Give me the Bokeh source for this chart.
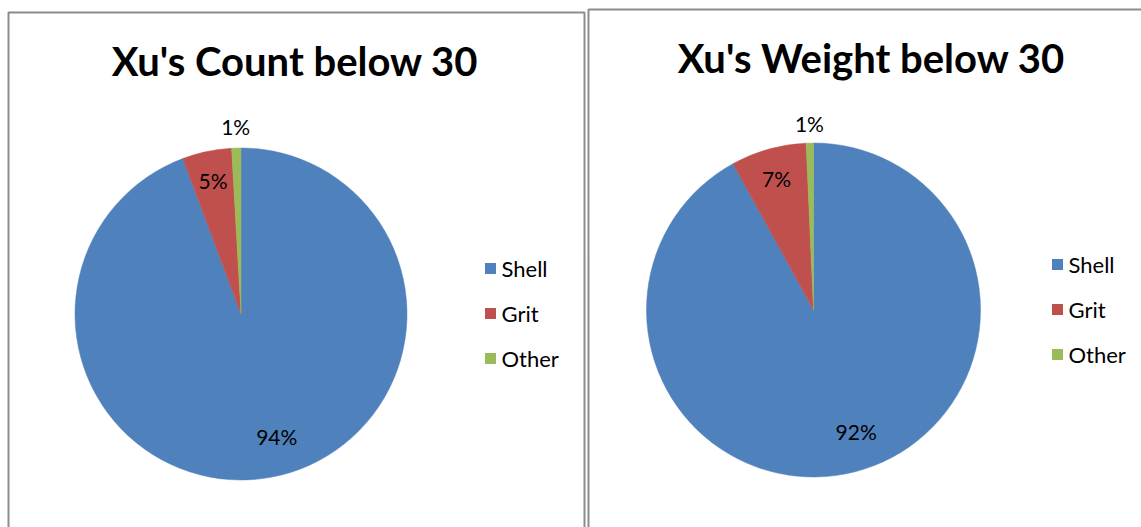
import math
from bokeh.plotting import figure
from bokeh.models import Range1d
from bokeh.core.properties import value
from bokeh.embed import file_html
from bokeh.resources import INLINE

# ---- data ----
categories = ["Shell", "Grit", "Other"]
colors = ["#4F81BD", "#C0504D", "#9BBB59"]
count_values = [94.3, 4.8, 0.9]
weight_values = [92.0, 7.3, 0.7]
titles = ["Xu's Count below 30", "Xu's Weight below 30"]

W, H = 1141, 527
FONT = "Lato"

p = figure(width=W, height=H, output_backend="svg", toolbar_location=None,
           x_range=Range1d(0, W), y_range=Range1d(0, H), min_border=0)
p.axis.visible = False
p.grid.visible = False
p.outline_line_color = None
p.background_fill_color = "white"


def Y(py):
    return H - py


def draw_panel(vals, title, box, center, radius, title_pos, legend_x, legend_y0,
               label_fac, label_shift):
    l, r, t = box
    # chart border
    p.quad(left=l, right=r, top=Y(t), bottom=Y(H + 20), fill_color=None,
           line_color="#8C8C8C", line_width=2)
    p.text(x=[title_pos[0]], y=[Y(title_pos[1])], text=[title], text_font=value(FONT),
           text_font_style="bold", text_font_size="40px", text_align="center",
           text_baseline="middle", text_color="#000000")
    total = sum(vals)
    cx, cy = center
    cum = 0.0
    starts, ends = [], []
    lx, ly, lt = [], [], []
    for i, v in enumerate(vals):
        frac0 = cum / total
        cum += v
        frac1 = cum / total
        a0 = math.pi / 2 - frac0 * 2 * math.pi
        a1 = math.pi / 2 - frac1 * 2 * math.pi
        starts.append(a0)
        ends.append(a1)
        mid = (a0 + a1) / 2 + math.radians(label_shift[i])
        d = radius * label_fac[i]
        lx.append(cx + d * math.cos(mid))
        ly.append(Y(cy) + d * math.sin(mid))
        lt.append(f"{round(v)}%")
    p.wedge(x=cx, y=Y(cy), radius=radius, start_angle=starts, end_angle=ends,
            direction="clock", fill_color=colors, line_color=colors, line_width=0.5)
    p.text(x=lx, y=ly, text=lt, text_font=value(FONT), text_font_size="21px",
           text_align="center", text_baseline="middle", text_color="#000000")
    # legend
    ys = [Y(legend_y0 + 45 * i) for i in range(len(categories))]
    p.scatter(x=[legend_x] * len(categories), y=ys, marker="square", size=11,
              fill_color=colors, line_color=None)
    p.text(x=[legend_x + 11] * len(categories), y=ys, text=categories,
           text_font=value(FONT), text_font_size="22px", text_align="left",
           text_baseline="middle", text_color="#000000")


draw_panel(count_values, titles[0], (8, 584, 12), (240.5, 313.5), 166,
           (294.5, 60), 490, 268, [0.77, 0.82, 1.13], [6, 0, 0])
draw_panel(weight_values, titles[1], (588, 1160, 9), (813, 309.5), 167,
           (871, 57), 1057, 264, [0.77, 0.82, 1.12], [5, 0, 0])

open("out.html", "w").write(file_html(p, INLINE))
